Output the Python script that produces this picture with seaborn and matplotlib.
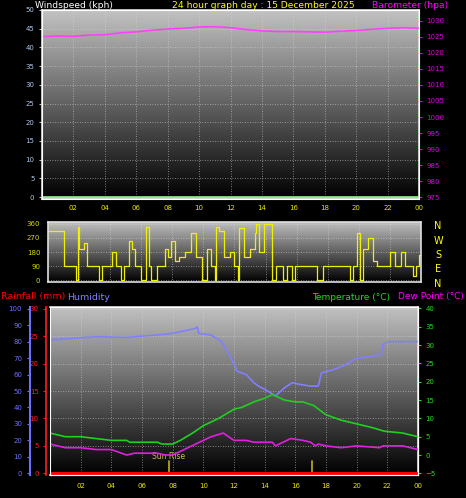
import numpy as np
import seaborn as sns
import matplotlib
matplotlib.use("Agg")
import matplotlib.pyplot as plt

sns.set_style("dark")
plt.rcParams["font.family"] = ["DejaVu Sans"]

# ---- data ----
baro_hours = [0, 1, 2, 3, 4, 5, 6, 7, 8, 9, 10, 11, 12, 13, 14, 15, 16, 17, 18, 19, 20, 21, 22, 23, 24]
baro_hpa = [1025.0, 1025.2, 1025.1, 1025.5, 1025.6, 1026.2, 1026.5, 1027.0, 1027.4, 1027.6, 1028.0, 1028.1,
            1027.8, 1027.2, 1026.8, 1026.6, 1026.6, 1026.5, 1026.4, 1026.7, 1026.9, 1027.3, 1027.6, 1027.8, 1027.6]
wind_hours = [0, 1.0, 1.8, 1.9, 2.0, 2.3, 2.5, 3.0, 3.3, 3.5, 4.1, 4.4, 4.7, 4.9, 5.2, 5.4, 5.6, 6.0, 6.3, 6.5, 6.6,
              7.0, 7.5, 7.7, 7.9, 8.2, 8.4, 8.8, 9.2, 9.5, 9.9, 10.2, 10.5, 10.75, 10.8, 11.0, 11.3, 11.7, 12.0, 12.2, 12.3,
              12.6, 13.0, 13.3, 13.4, 13.6, 13.9, 14.1, 14.4, 14.7, 15.1, 15.4, 15.7, 15.9, 16.5, 17.3, 17.7, 18.5,
              19.4, 19.6, 19.9, 20.1, 20.3, 20.6, 20.9, 21.2, 22.0, 22.3, 22.7, 23.0, 23.5, 23.7, 23.9, 24]
wind_deg = [310, 90, 0, 340, 200, 240, 90, 90, 0, 90, 180, 90, 0, 90, 250, 200, 90, 0, 340, 90, 0,
            90, 200, 150, 250, 120, 150, 180, 300, 150, 0, 200, 90, 0, 340, 310, 150, 180, 90, 0, 330,
            150, 200, 300, 360, 180, 360, 360, 0, 90, 0, 90, 0, 90, 90, 0, 90, 90,
            0, 90, 300, 0, 200, 270, 120, 90, 180, 90, 180, 90, 30, 90, 160, 90]
hum_hours = [0, 1.5, 3, 5, 5.5, 7, 8, 9.5, 9.6, 9.7, 10.5, 11.2, 11.8, 12.2, 12.8, 13.3, 13.6, 14.2, 14.7,
             15.3, 15.8, 16.3, 17.0, 17.5, 17.7, 18.5, 19.3, 20.0, 21.0, 21.6, 21.7, 22.0, 24]
humidity = [81, 82, 83, 82.5, 83, 84, 85, 88, 89, 85, 84, 80, 70, 62, 60, 55, 53, 50, 47,
            52, 55, 54, 53, 53, 61, 63, 66, 70, 71, 72, 78, 80, 80]
temp_hours = [0, 1, 2, 3, 4, 5, 5.2, 6.5, 7, 7.3, 8, 8.5, 9.3, 10, 11, 12, 12.5, 13.3, 14, 14.5,
              15.3, 16, 16.5, 17.2, 18, 19, 20, 21, 21.8, 23, 24]
temperature = [6, 5, 5, 4.5, 4, 4, 3.5, 3.5, 3.5, 3, 3, 4, 6, 8, 10, 12.5, 13, 14.5, 15.5, 16.5,
               15, 14.5, 14.5, 13.5, 11, 9.5, 8.5, 7.5, 6.5, 6, 5]
dew_hours = [0, 1, 2, 3, 4, 5, 5.5, 7, 7.5, 8, 8.5, 9.5, 10.5, 11.3, 12, 12.8, 13.3, 14.5, 14.7,
             15.7, 16.5, 17, 17.3, 17.5, 18, 19, 20, 21.5, 21.7, 23, 24]
dew_point = [3, 2, 2, 1.5, 1.5, 0, 0.5, 0.5, 0, 0, 1, 3, 5, 6, 4, 4, 3.5, 3.5, 2.5,
             4.5, 4, 3.5, 2.5, 3, 2.5, 2, 2.5, 2, 2.5, 2.5, 1.5]
rain_hours = [0, 24]
rainfall = [0, 0]
sunrise, sunset = 7.75, 17.1
tick_hours = list(range(2, 25, 2))
tick_labels = ["02", "04", "06", "08", "10", "12", "14", "16", "18", "20", "22", "00"]

W, H = 466, 498
fig = plt.figure(figsize=(W / 100, H / 100), dpi=100, facecolor="black")
grad = np.linspace(0.76, 0.0, 256).reshape(-1, 1)


def panel(rect):
    ax = fig.add_axes(rect)
    ax.imshow(grad, cmap="gray", vmin=0, vmax=1, aspect="auto",
              extent=[0, 1, 0, 1], transform=ax.transAxes, zorder=0)
    ax.set_facecolor("black")
    ax.set_xlim(0, 24)
    ax.set_xticks(tick_hours)
    ax.grid(True, color="#d8d8d8", linestyle=(0, (1, 2)), linewidth=0.6, alpha=0.7)
    for s in ax.spines.values():
        s.set_color("#e0e0e0")
        s.set_linewidth(1.2)
    ax.tick_params(labelsize=5, length=2, colors="#c0c0c0")
    return ax


def fr(x0, y0, x1, y1):
    return [x0 / W, 1 - y1 / H, (x1 - x0) / W, (y1 - y0) / H]


# ---- panel 1: windspeed / barometer ----
ax1 = panel(fr(42, 10, 419, 199))
ax1.set_ylim(-0.5, 50)
ax1.set_yticks(range(0, 51, 5))
ax1.set_xticklabels(tick_labels)
ax1.tick_params(axis="x", labelcolor="#e8e800", pad=2)
ax1.tick_params(axis="y", labelcolor="#b0c8e8")
sns.lineplot(x=[0, 24], y=[0, 0], ax=ax1, color="#90e090", linewidth=2)
ax1b = ax1.twinx()
ax1b.set_yticks(range(975, 1031, 5))
ax1b.tick_params(labelsize=5, length=2, colors="#e000e0", labelcolor="#e000e0")
sns.lineplot(x=baro_hours, y=baro_hpa, ax=ax1b, color="#ff40ff", linewidth=1.2)
ax1b.set_ylim(974.5, 1033.3)
ax1b.set_ylabel("")
fig.text(35 / W, 1 - 6 / H, "Windspeed (kph)", color="white", fontsize=6.6, va="center")
fig.text(172 / W, 1 - 6 / H, "24 hour graph day : 15 December 2025", color="#ffff00", fontsize=6.6, va="center")
fig.text(372 / W, 1 - 6 / H, "Barometer (hpa)", color="#ff00ff", fontsize=6.6, va="center")

# ---- panel 2: wind direction ----
ax2 = panel(fr(48, 222, 421, 282))
ax2.set_ylim(-10, 370)
ax2.set_yticks([0, 90, 180, 270, 360])
ax2.set_xticklabels([])
ax2.tick_params(axis="x", length=0)
ax2.tick_params(axis="y", labelcolor="#d8d800")
sns.lineplot(x=wind_hours, y=wind_deg, ax=ax2, color="#f0f000", linewidth=0.9, drawstyle="steps-post")
ax2.set_ylabel("")
for i, c in enumerate("NWSEN"):
    fig.text(438 / W, 1 - (226 + i * 14.5) / H, c, color="#ffff00", fontsize=7, ha="center", va="center")

# ---- panel 3: rain / humidity / temperature ----
ax3 = panel(fr(50, 307, 418, 475))
ax3.set_ylim(-0.3, 30.3)
ax3.set_yticks(range(0, 31, 5))
ax3.set_xticklabels(tick_labels)
ax3.tick_params(axis="x", labelcolor="#e8e800")
ax3.tick_params(axis="y", labelcolor="#ff2020", colors="#ff2020")
ax3.spines["left"].set_color("#ff2020")
ax3.spines["left"].set_position(("axes", -0.01))
sns.lineplot(x=rain_hours, y=rainfall, ax=ax3, color="#ff0000", linewidth=2.2, zorder=5)
for h in (sunrise, sunset):
    ax3.plot([h, h], [0, 2.3], color="#c0b020", linewidth=1.2)
ax3.text(sunrise, 2.6, "Sun Rise", color="#c8c040", fontsize=5.5, ha="center")
ax3.set_ylabel("")

axh = ax3.twinx()
axh.yaxis.set_label_position("left")
axh.yaxis.tick_left()
axh.spines["left"].set_position(("axes", -0.055))
axh.spines["left"].set_visible(True)
axh.spines["left"].set_color("#7070ff")
axh.spines["left"].set_linewidth(1.5)
axh.set_ylim(-1, 101)
axh.set_yticks(range(0, 101, 10))
axh.tick_params(labelsize=5, length=2, colors="#7070ff")
sns.lineplot(x=hum_hours, y=humidity, ax=axh, color="#8080ff", linewidth=1.2)
axh.set_ylabel("")

axt = ax3.twinx()
axt.set_ylim(-5.45, 40.4)
axt.set_yticks(range(-5, 41, 5))
axt.tick_params(labelsize=5, length=2, colors="#20e020")
sns.lineplot(x=temp_hours, y=temperature, ax=axt, color="#20d020", linewidth=1.2)
sns.lineplot(x=dew_hours, y=dew_point, ax=axt, color="#e020e0", linewidth=1.2)
axt.set_ylabel("")
for a in (ax3, axh, axt, ax1, ax1b, ax2):
    a.set_xlabel("")

fig.text(1 / W, 1 - 297 / H, "Rainfall (mm)", color="#ff0000", fontsize=6.8, va="center")
fig.text(67 / W, 1 - 297 / H, "Humidity", color="#8080ff", fontsize=6.8, va="center")
fig.text(312 / W, 1 - 297 / H, "Temperature (°C)", color="#20e020", fontsize=6.5, va="center")
fig.text(398 / W, 1 - 297 / H, "Dew Point (°C)", color="#ff00ff", fontsize=6.5, va="center")

fig.savefig("out.png", dpi=100, facecolor="black")
